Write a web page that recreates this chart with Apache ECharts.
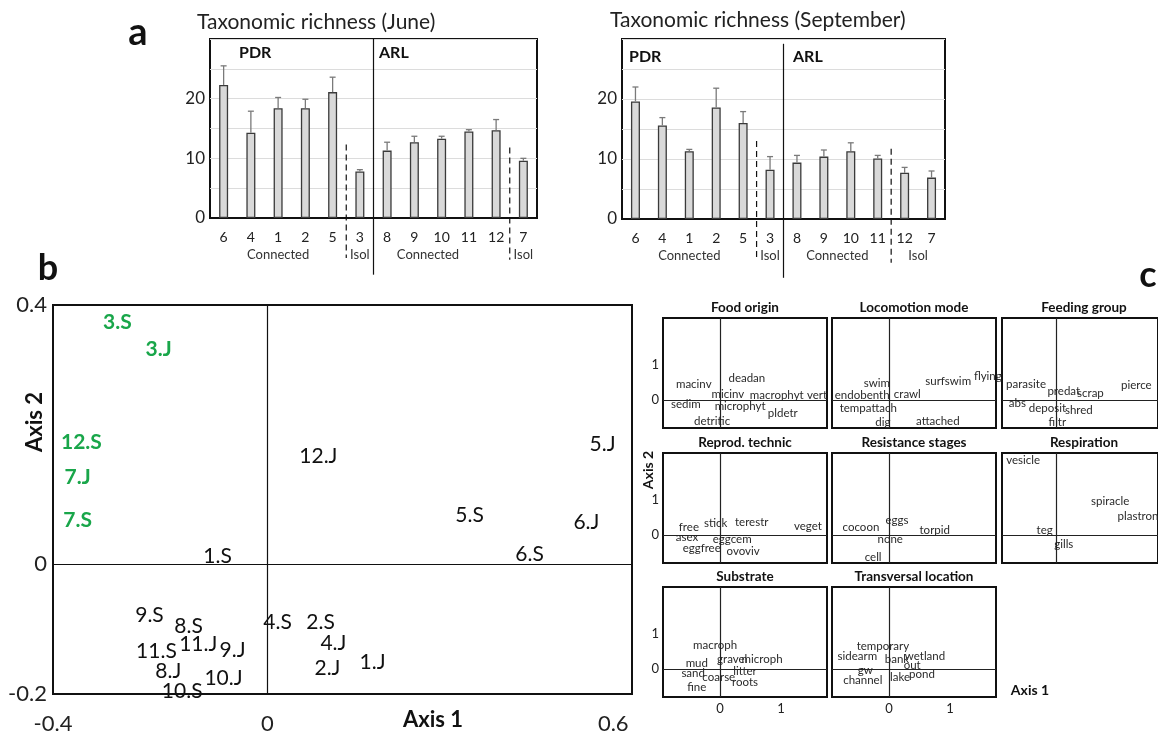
<!DOCTYPE html>
<html><head><meta charset="utf-8">
<script src="https://cdn.jsdelivr.net/npm/echarts@6/dist/echarts.min.js"></script>
<style>html,body{margin:0;padding:0;background:#fff}#c{width:1158px;height:735px}</style>
</head><body><div id="c"></div>
<script>
// ---------- Panel a data ----------
const sites = ['6','4','1','2','5','3','8','9','10','11','12','7'];
const juneMean  = [22.3,14.3,18.4,18.4,21.1,7.8,11.3,12.7,13.3,14.5,14.7,9.6];
const juneUpper = [25.5,17.9,20.2,19.9,23.6,8.1,12.7,13.7,13.7,14.8,16.5,10.0];
const septMean  = [19.6,15.6,11.3,18.6,16.0,8.2,9.4,10.4,11.3,10.1,7.7,6.9];
const septUpper = [22.0,16.9,11.6,21.8,17.9,10.4,10.6,11.5,12.7,10.6,8.6,8.0];
const richnessTicks = [0,10,20];
const juneGroups = [['Connected',0,4],['Isol',5,5],['Connected',6,9],['Isol',11,11]];
const septGroups = [['Connected',0,4],['Isol',5,5],['Connected',6,9],['Isol',10,11]];

// ---------- Panel b data ----------
const sampleNames = ['3.S','3.J','12.S','7.J','7.S','1.S','9.S','8.S','4.S','11.S','11.J','9.J','8.J','10.J','10.S','12.J','5.J','5.S','6.J','6.S','2.S','4.J','2.J','1.J'];
const sampleAxis1 = [-0.280,-0.203,-0.347,-0.354,-0.354,-0.093,-0.220,-0.147,0.019,-0.207,-0.129,-0.065,-0.185,-0.082,-0.159,0.095,0.625,0.377,0.595,0.489,0.099,0.123,0.112,0.196];
const sampleAxis2 = [0.374,0.332,0.188,0.135,0.068,0.012,-0.078,-0.095,-0.089,-0.134,-0.123,-0.132,-0.165,-0.175,-0.195,0.166,0.186,0.075,0.065,0.015,-0.089,-0.122,-0.160,-0.151];
const sampleIsolated = ['3.S','3.J','12.S','7.J','7.S'];
const axis1Ticks = [-0.4,0,0.6];
const axis2Ticks = [-0.2,0,0.4];

// ---------- Panel c data ----------
const foodOriginMods = ['macinv','deadan','micinv','macrophyt','vert','sedim','microphyt','pldetr','detritic'];
const foodOriginAx1  = [-0.43,0.44,0.13,0.93,1.59,-0.56,0.33,1.03,-0.13];
const foodOriginAx2  = [0.46,0.63,0.17,0.14,0.14,-0.11,-0.17,-0.37,-0.60];
const locomotionMods = ['swim','surfswim','flying','endobenth','crawl','tempattach','dig','attached'];
const locomotionAx1  = [-0.20,0.97,1.62,-0.44,0.30,-0.34,-0.10,0.80];
const locomotionAx2  = [0.49,0.54,0.69,0.14,0.17,-0.23,-0.63,-0.60];
const feedingMods = ['parasite','predat','scrap','pierce','abs','deposit','shred','filtr'];
const feedingAx1  = [-0.52,0.13,0.59,1.38,-0.67,-0.15,0.39,0.02];
const feedingAx2  = [0.46,0.26,0.20,0.43,-0.09,-0.23,-0.29,-0.63];
const reprodMods = ['free','stick','terestr','veget','asex','eggcem','eggfree','ovoviv'];
const reprodAx1  = [-0.51,-0.07,0.52,1.44,-0.54,0.20,-0.30,0.38];
const reprodAx2  = [0.23,0.34,0.37,0.26,-0.06,-0.11,-0.37,-0.46];
const resistanceMods = ['cocoon','eggs','torpid','none','cell'];
const resistanceAx1  = [-0.46,0.13,0.75,0.02,-0.26];
const resistanceAx2  = [0.23,0.43,0.14,-0.11,-0.63];
const respirationMods = ['vesicle','spiracle','plastron','teg','gills'];
const respirationAx1  = [-0.57,0.93,1.41,-0.20,0.13];
const respirationAx2  = [2.14,0.97,0.54,0.14,-0.26];
const substrateMods = ['macroph','mud','gravel','microph','sand','coarse','litter','fine','roots'];
const substrateAx1  = [-0.08,-0.38,0.20,0.69,-0.44,-0.02,0.41,-0.38,0.41];
const substrateAx2  = [0.69,0.17,0.29,0.29,-0.11,-0.23,-0.06,-0.51,-0.37];
const transversalMods = ['temporary','sidearm','bank','wetland','out','gw','channel','lake','pond'];
const transversalAx1  = [-0.10,-0.52,0.13,0.59,0.38,-0.39,-0.43,0.18,0.54];
const transversalAx2  = [0.66,0.37,0.29,0.37,0.11,-0.03,-0.31,-0.23,-0.14];
const traitTicks = [0,1];

// ---------- build ----------
const FONT = 'Lato, "Open Sans", sans-serif';
const INK = '#111';
const grids = [], xAxes = [], yAxes = [], series = [], graphics = [];

function txt(x, y, text, size, opts) {
  opts = opts || {};
  graphics.push({type:'text', x:x, y:y, rotation:opts.rot||0, silent:true,
    style:{text:text, fontSize:size, fontWeight:opts.bold?'bold':'normal', fontFamily:FONT,
      fill:opts.color||INK, align:opts.align||'center', verticalAlign:'middle'}});
}

function barPanel(gi, rect, mean, upper, groups, seps) {
  grids.push(Object.assign({show:true, borderColor:'#111', borderWidth:2, backgroundColor:'transparent'}, rect));
  xAxes.push({gridIndex:gi, type:'category', data:sites, axisTick:{show:false},
    axisLine:{lineStyle:{color:'#111', width:2}},
    axisLabel:{interval:0, fontSize:14, color:'#222', margin:12, fontFamily:FONT}});
  yAxes.push({gridIndex:gi, type:'value', min:0, max:30, interval:5,
    axisLine:{show:false}, axisTick:{show:false},
    splitLine:{lineStyle:{color:'#dcdcdc', width:1}},
    axisLabel:{fontSize:17, color:'#222', margin:5, fontFamily:FONT,
      formatter:v => richnessTicks.indexOf(v) >= 0 ? String(v) : ''}});
  series.push({type:'bar', xAxisIndex:gi, yAxisIndex:gi, data:mean, barWidth:9,
    itemStyle:{color:'#d9d9d9', borderColor:'#3a3a3a', borderWidth:1.3}, z:2});
  series.push({type:'custom', xAxisIndex:gi, yAxisIndex:gi, z:3,
    data: mean.map((m,i)=>[i, m, upper[i]]),
    renderItem:(p, api) => {
      const a = api.coord([api.value(0), api.value(1)]);
      const b = api.coord([api.value(0), api.value(2)]);
      return {type:'group', children:[
        {type:'line', shape:{x1:a[0], y1:a[1], x2:b[0], y2:b[1]}, style:{stroke:'#7a7a7a', lineWidth:1.3}},
        {type:'line', shape:{x1:b[0]-3, y1:b[1], x2:b[0]+3, y2:b[1]}, style:{stroke:'#7a7a7a', lineWidth:1.3}}
      ]};
    }});
  series.push({type:'custom', xAxisIndex:gi, yAxisIndex:gi, z:4, clip:false,
    data: seps.map(s => [s[0], 0]),
    renderItem:(p, api) => {
      const s = seps[p.dataIndex];
      const xa = api.coord([s[0], 0])[0], xb = api.coord([s[0]+1, 0])[0];
      const x = (xa + xb) / 2;
      const y1 = api.coord([s[0], s[1]])[1], y2 = api.coord([s[0], s[2]])[1];
      return {type:'line', shape:{x1:x, y1:y1, x2:x, y2:y2},
        style:{stroke:'#111', lineWidth:1.2, lineDash: s[3] ? [6,4] : null}};
    }});
  series.push({type:'custom', xAxisIndex:gi, yAxisIndex:gi, z:4, clip:false,
    data: groups.map(g => [g[1], 0]),
    renderItem:(p, api) => {
      const g = groups[p.dataIndex];
      const x = (api.coord([g[1], 0])[0] + api.coord([g[2], 0])[0]) / 2;
      const y = api.coord([g[1], 0])[1] + 37;
      return {type:'text', x:x, y:y, style:{text:g[0], fontSize:13, fontFamily:FONT, fill:'#333', align:'center', verticalAlign:'middle'}};
    }});
}

barPanel(0, {left:210, top:39, width:327, height:179}, juneMean, juneUpper, juneGroups,
  [[4,12.3,-6.7,true],[5,30,-9.5,false],[10,11.8,-7,true]]);
barPanel(1, {left:622, top:39, width:323, height:180}, septMean, septUpper, septGroups,
  [[4,13,-6.6,true],[5,29.2,-9.8,false],[9,11.7,-7.3,true]]);

txt(197, 22, 'Taxonomic richness (June)', 21, {align:'left', color:'#222'});
txt(610, 20, 'Taxonomic richness (September)', 21, {align:'left', color:'#222'});
txt(239, 53, 'PDR', 16, {bold:true, align:'left'});
txt(379, 53, 'ARL', 16, {bold:true, align:'left'});
txt(629, 57, 'PDR', 16, {bold:true, align:'left'});
txt(793, 57, 'ARL', 16, {bold:true, align:'left'});
txt(138, 33, 'a', 38, {bold:true});
txt(48, 268, 'b', 36, {bold:true});
txt(1148, 275, 'c', 36, {bold:true});

// ---------- Panel b ----------
grids.push({show:true, left:53, top:305, width:579, height:390, borderColor:'#111', borderWidth:2, backgroundColor:'transparent'});
xAxes.push({gridIndex:2, type:'value', min:-0.4, max:0.68,
  axisLine:{show:false}, axisTick:{show:false}, splitLine:{show:false},
  axisLabel:{customValues:[axis1Ticks[0], axis1Ticks[1], 0.645], fontSize:22, color:'#222', margin:19, fontFamily:FONT,
    formatter:v => v === 0 ? '0' : v.toFixed(1)}});
yAxes.push({gridIndex:2, type:'value', min:-0.2, max:0.4,
  axisLine:{show:false}, axisTick:{show:false}, splitLine:{show:false},
  axisLabel:{customValues:axis2Ticks, fontSize:22, color:'#222', margin:6, fontFamily:FONT,
    formatter:v => v === 0 ? '0' : v.toFixed(1)}});
const connPts = [], isoPts = [];
sampleNames.forEach((n,i) => {
  (sampleIsolated.indexOf(n) >= 0 ? isoPts : connPts).push([sampleAxis1[i], sampleAxis2[i], n]);
});
series.push({type:'scatter', xAxisIndex:2, yAxisIndex:2, data:connPts, symbolSize:1,
  itemStyle:{color:'rgba(0,0,0,0)', opacity:1},
  label:{show:true, position:'inside', opacity:1, formatter:p => p.data[2], fontSize:21, color:INK, fontFamily:FONT},
  markLine:{silent:true, symbol:['none','none'], label:{show:false}, animation:false,
    lineStyle:{color:'#111', width:1.2, type:'solid'}, data:[{xAxis:0},{yAxis:0}]}});
series.push({type:'scatter', xAxisIndex:2, yAxisIndex:2, data:isoPts, symbolSize:1,
  itemStyle:{color:'rgba(0,0,0,0)', opacity:1},
  label:{show:true, position:'inside', opacity:1, formatter:p => p.data[2], fontSize:21, fontWeight:'bold', color:'#19a64a', fontFamily:FONT}});
txt(433, 720, 'Axis 1', 22, {bold:true});
txt(35, 422, 'Axis 2', 22, {bold:true, rot:Math.PI/2});

// ---------- Panel c ----------
const cPanels = [
  ['Food origin', foodOriginMods, foodOriginAx1, foodOriginAx2],
  ['Locomotion mode', locomotionMods, locomotionAx1, locomotionAx2],
  ['Feeding group', feedingMods, feedingAx1, feedingAx2],
  ['Reprod. technic', reprodMods, reprodAx1, reprodAx2],
  ['Resistance stages', resistanceMods, resistanceAx1, resistanceAx2],
  ['Respiration', respirationMods, respirationAx1, respirationAx2],
  ['Substrate', substrateMods, substrateAx1, substrateAx2],
  ['Transversal location', transversalMods, transversalAx1, transversalAx2]
];
const colLeft = [663, 832, 1002], rowTop = [318, 453, 587];
cPanels.forEach((pn, k) => {
  const gi = 3 + k, col = k % 3, row = Math.floor(k / 3);
  const L = colLeft[col], T = rowTop[row];
  grids.push({show:true, left:L, top:T, width:164, height:110, borderColor:'#111', borderWidth:2, backgroundColor:'transparent'});
  xAxes.push({gridIndex:gi, type:'value', min:-57/61, max:107/61,
    axisLine:{show:false}, axisTick:{show:false}, splitLine:{show:false},
    axisLabel:{show: row === 2, customValues:traitTicks, fontSize:13, color:'#222', margin:5, fontFamily:FONT}});
  yAxes.push({gridIndex:gi, type:'value', min:-28/35, max:82/35,
    axisLine:{show:false}, axisTick:{show:false}, splitLine:{show:false},
    axisLabel:{show: col === 0, customValues:traitTicks, fontSize:13, color:'#222', margin:4, fontFamily:FONT}});
  series.push({type:'scatter', xAxisIndex:gi, yAxisIndex:gi, symbolSize:1,
    itemStyle:{color:'rgba(0,0,0,0)', opacity:1},
    data: pn[1].map((m,i) => [pn[2][i], pn[3][i], m]),
    label:{show:true, position:'inside', opacity:1, formatter:p => p.data[2], fontSize:11.5, color:'#2a2a2a', fontFamily:FONT},
    markLine:{silent:true, symbol:['none','none'], label:{show:false}, animation:false,
      lineStyle:{color:'#222', width:1.2, type:'solid'}, data:[{xAxis:0},{yAxis:0}]}});
  txt(L + 82, T - 10, pn[0], 13.5, {bold:true});
});
txt(1030, 690, 'Axis 1', 14, {bold:true});
txt(648, 470, 'Axis 2', 14, {bold:true, rot:Math.PI/2});

const chart = echarts.init(document.getElementById('c'), null, {renderer:'canvas', width:1158, height:735});
chart.setOption({animation:false, backgroundColor:'#fff', grid:grids, xAxis:xAxes, yAxis:yAxes, series:series, graphic:graphics});
</script>
</body></html>
